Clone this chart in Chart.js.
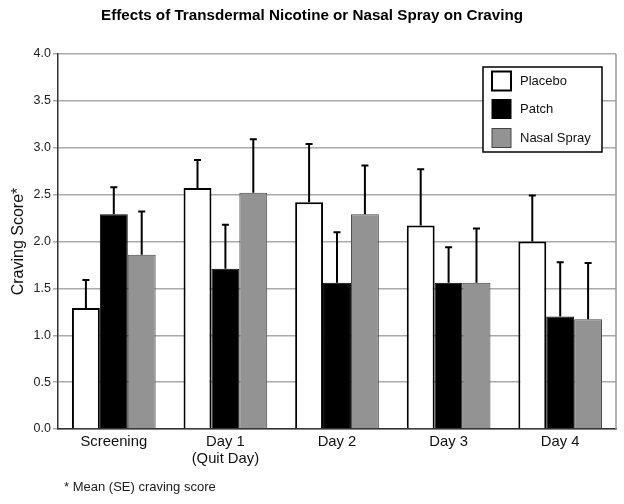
<!DOCTYPE html>
<html>
<head>
<meta charset="utf-8">
<script src="https://cdn.jsdelivr.net/npm/chart.js@4"></script>
<style>
  html, body { margin: 0; padding: 0; background: #fff; }
  #wrap { width: 624px; height: 504px; }
</style>
</head>
<body>
<div id="wrap"><canvas id="chart1" width="624" height="504"></canvas></div>
<script>
const categories = ['Screening', ['Day 1', '(Quit Day)'], 'Day 2', 'Day 3', 'Day 4'];
const seriesNames = ['Placebo', 'Patch', 'Nasal Spray'];
const placebo = [1.29, 2.57, 2.42, 2.17, 2.00];
const patch = [2.29, 1.71, 1.56, 1.56, 1.20];
const nasal = [1.86, 2.52, 2.29, 1.56, 1.17];
const placeboSE = [0.30, 0.30, 0.62, 0.60, 0.49];
const patchSE = [0.29, 0.47, 0.54, 0.38, 0.58];
const nasalSE = [0.46, 0.57, 0.52, 0.58, 0.60];
const yTicks = [0, 0.5, 1, 1.5, 2, 2.5, 3, 3.5, 4];

const fontFam = '"Liberation Sans", Arial, Helvetica, sans-serif';
const fills = ['#ffffff', '#000000', '#939393'];
const errs = [placeboSE, patchSE, nasalSE];

const errorBars = {
  id: 'errorBars',
  afterDatasetsDraw(chart) {
    const c = chart.ctx;
    const y = chart.scales.y;
    c.save();
    c.strokeStyle = '#000';
    c.lineWidth = 2;
    chart.data.datasets.forEach((ds, i) => {
      chart.getDatasetMeta(i).data.forEach((bar, j) => {
        const top = y.getPixelForValue(ds.data[j] + errs[i][j]);
        c.beginPath();
        c.moveTo(bar.x, bar.y);
        c.lineTo(bar.x, top);
        c.moveTo(bar.x - 3.5, top);
        c.lineTo(bar.x + 3.5, top);
        c.stroke();
      });
    });
    c.restore();
  }
};

const decorations = {
  id: 'decorations',
  afterDraw(chart) {
    const c = chart.ctx;
    const a = chart.chartArea;
    c.save();
    // right frame line
    c.strokeStyle = '#999';
    c.lineWidth = 1.5;
    c.beginPath();
    c.moveTo(a.right, a.top);
    c.lineTo(a.right, a.bottom);
    c.stroke();
    // title
    c.fillStyle = '#000';
    c.font = 'bold 15.2px ' + fontFam;
    c.textAlign = 'center';
    c.textBaseline = 'middle';
    c.fillText('Effects of Transdermal Nicotine or Nasal Spray on Craving', 312, 16);
    // footnote
    c.font = '13px ' + fontFam;
    c.textAlign = 'left';
    c.fillStyle = '#222';
    c.fillText('* Mean (SE) craving score', 64, 487);
    // legend
    c.fillStyle = '#fff';
    c.fillRect(483, 67, 119, 85);
    c.strokeStyle = '#000';
    c.lineWidth = 1.5;
    c.strokeRect(483, 67, 119, 85);
    const rows = [81, 109, 138];
    c.font = '13px ' + fontFam;
    seriesNames.forEach((name, i) => {
      c.fillStyle = fills[i];
      c.fillRect(492, rows[i] - 9.5, 19, 19);
      c.lineWidth = i === 0 ? 2 : 1;
      c.strokeStyle = i === 2 ? '#444' : '#000';
      c.strokeRect(492, rows[i] - 9.5, 19, 19);
      c.fillStyle = '#111';
      c.fillText(name, 520, rows[i]);
    });
    c.restore();
  }
};

new Chart(document.getElementById('chart1'), {
  type: 'bar',
  data: {
    labels: categories,
    datasets: [
      { label: seriesNames[0], data: placebo, backgroundColor: fills[0], borderColor: '#000', borderWidth: 2 },
      { label: seriesNames[1], data: patch, backgroundColor: fills[1], borderColor: '#000', borderWidth: 1 },
      { label: seriesNames[2], data: nasal, backgroundColor: fills[2], borderColor: '#444', borderWidth: 1 }
    ]
  },
  plugins: [errorBars, decorations],
  options: {
    responsive: false,
    animation: false,
    layout: { padding: { top: 54, right: 8, left: 0, bottom: 0 } },
    datasets: { bar: { categoryPercentage: 0.75, barPercentage: 1.0 } },
    plugins: {
      legend: { display: false },
      tooltip: { enabled: false }
    },
    scales: {
      x: {
        grid: { display: false },
        border: { color: '#333', width: 1.5 },
        ticks: { color: '#111', font: { family: fontFam, size: 14.8, lineHeight: 1.15 }, padding: -4 },
        afterFit(s) { s.height = 75; }
      },
      y: {
        min: 0,
        max: 4,
        afterBuildTicks(s) { s.ticks = yTicks.map(v => ({ value: v })); },
        grid: { color: '#aaa', lineWidth: 1.5, tickLength: 5 },
        border: { color: '#333', width: 1.5 },
        ticks: {
          color: '#222',
          font: { family: fontFam, size: 12.5 },
          padding: 2,
          callback: v => v.toFixed(1)
        },
        title: {
          display: true,
          text: 'Craving Score*',
          color: '#111',
          font: { family: fontFam, size: 16 },
          padding: { top: 9, bottom: 0 }
        },
        afterFit(s) { s.width = 58; }
      }
    }
  }
});
</script>
</body>
</html>
